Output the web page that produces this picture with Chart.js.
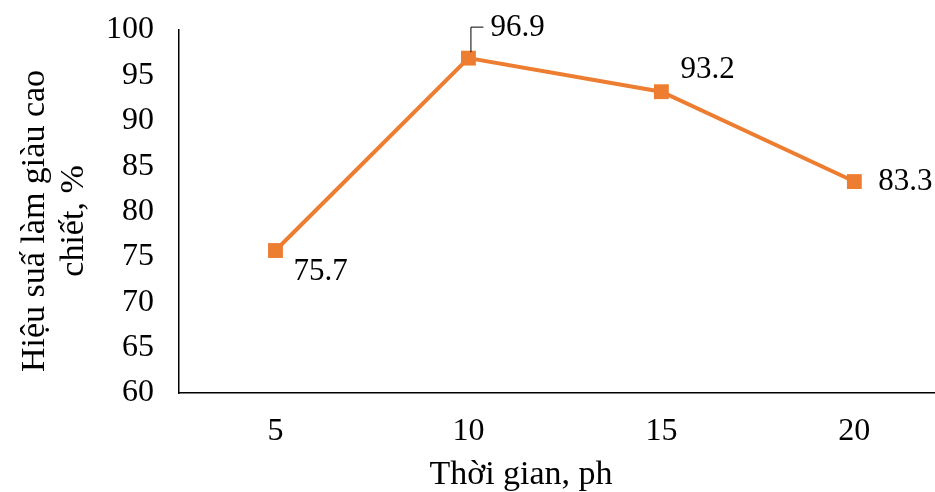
<!DOCTYPE html>
<html>
<head>
<meta charset="utf-8">
<script src="https://cdn.jsdelivr.net/npm/chart.js@4/dist/chart.umd.min.js"></script>
<style>
  html, body { margin: 0; padding: 0; background: #fff; }
  #wrap { width: 935px; height: 492px; }
</style>
</head>
<body>
<div id="wrap"><canvas id="chart" width="935" height="492"></canvas></div>
<script>
const categories = [5, 10, 15, 20];
const yieldValues = [75.7, 96.9, 93.2, 83.3];
const yTicks = [60, 65, 70, 75, 80, 85, 90, 95, 100];
const xTitle = 'Thời gian, ph';
const yTitle = ['Hiệu suấ làm giàu cao', 'chiết, %'];

const orange = '#ED7D31';
const serif = '"Liberation Serif", "Times New Roman", serif';

// label offsets relative to each point (text left edge, vertical middle)
const labelOffsets = [[18, 21], [22, -30], [19, -22], [24, 0]];

const labelPlugin = {
    id: 'labels',
    afterDatasetsDraw(chart) {
        const ctx = chart.ctx;
        const pts = chart.getDatasetMeta(0).data;
        ctx.save();
        ctx.font = '31px ' + serif;
        ctx.fillStyle = '#000';
        ctx.textBaseline = 'middle';
        ctx.textAlign = 'left';
        pts.forEach((p, i) => {
            const [dx, dy] = labelOffsets[i];
            ctx.fillText(yieldValues[i].toFixed(1), p.x + dx, p.y + dy);
        });
        // leader line for the peak label
        const peak = pts[1];
        ctx.strokeStyle = '#000';
        ctx.lineWidth = 1;
        ctx.beginPath();
        ctx.moveTo(peak.x + 2.5, peak.y - 6);
        ctx.lineTo(peak.x + 2.5, peak.y - 31);
        ctx.lineTo(peak.x + 15, peak.y - 31);
        ctx.stroke();
        // axis titles
        ctx.font = '34px ' + serif;
        ctx.textAlign = 'center';
        ctx.textBaseline = 'alphabetic';
        ctx.fillText(xTitle, 521, 484);
        ctx.textBaseline = 'middle';
        ctx.translate(0, 221);
        ctx.rotate(-Math.PI / 2);
        ctx.fillText(yTitle[0], 0, 35);
        ctx.fillText(yTitle[1], 0, 74);
        ctx.restore();
    }
};

const ctx = document.getElementById('chart').getContext('2d');
const chart = new Chart(ctx, {
    type: 'line',
    data: {
        datasets: [{
            data: categories.map((c, i) => ({ x: c, y: yieldValues[i] })),
            borderColor: orange,
            backgroundColor: orange,
            borderWidth: 4,
            pointStyle: 'rect',
            pointRadius: 10.5,
            pointBorderWidth: 0,
            pointHoverRadius: 10.5,
            tension: 0
        }]
    },
    options: {
        responsive: false,
        animation: false,
        devicePixelRatio: 1,
        layout: { autoPadding: false, padding: { top: 30, left: 0, right: 0, bottom: 0 } },
        plugins: { legend: { display: false }, tooltip: { enabled: false } },
        scales: {
            x: {
                type: 'linear',
                min: 2.5,
                max: 22.09,
                afterBuildTicks: axis => { axis.ticks = categories.map(v => ({ value: v })); },
                afterFit: axis => {
                    axis.height = 99;
                    axis.paddingLeft = 0;
                    axis.paddingRight = 0;
                },
                grid: { display: false, drawTicks: false },
                border: { display: true, color: '#000', width: 1.5 },
                ticks: {
                    font: { family: serif, size: 32 },
                    color: '#000',
                    padding: 19,
                    maxRotation: 0,
                    autoSkip: false
                }
            },
            y: {
                min: 60,
                max: 100,
                afterBuildTicks: axis => { axis.ticks = yTicks.map(v => ({ value: v })); },
                afterFit: axis => {
                    axis.width = 179;
                    axis.paddingTop = 0;
                    axis.paddingBottom = 0;
                },
                grid: { display: false, drawTicks: false },
                border: { display: true, color: '#000', width: 1.5 },
                ticks: {
                    font: { family: serif, size: 32 },
                    color: '#000',
                    padding: 25
                }
            }
        }
    },
    plugins: [labelPlugin]
});
</script>
</body>
</html>
